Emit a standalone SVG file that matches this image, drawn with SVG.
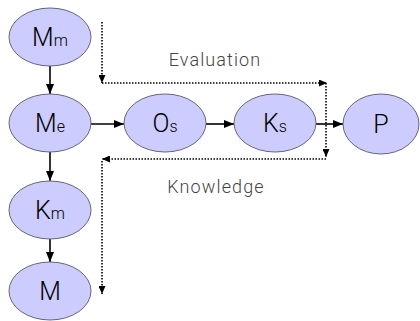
<svg xmlns="http://www.w3.org/2000/svg" width="420" height="321" viewBox="0 0 420 321">
<style>
.node ellipse{fill:#ccccff;stroke:#666677;stroke-width:1}
.node text{font-family:Roboto,"Liberation Sans",Arial,sans-serif;font-weight:300;font-size:25px;fill:#000;text-anchor:middle}
.node tspan.sub{font-size:16px}
.solid{stroke:#000;stroke-width:1.6;fill:none}
.dot{stroke:#000;stroke-width:1.6;fill:none;stroke-dasharray:1.5 1.5}
.lbl{font-family:Roboto,"Liberation Sans",Arial,sans-serif;font-weight:300;font-size:18px;fill:#444;letter-spacing:1.1px;text-anchor:middle}
</style>
<defs>
<marker id="ah" viewBox="0 0 10 8" refX="10" refY="4" markerWidth="10" markerHeight="8" markerUnits="userSpaceOnUse" orient="auto"><path d="M0,0 L10,4 L0,8 Z" fill="#000"/></marker>
<marker id="dh" viewBox="0 0 8 7" refX="8" refY="3.5" markerWidth="8" markerHeight="7" markerUnits="userSpaceOnUse" orient="auto"><path d="M0,0 L8,3.5 L0,7 Z" fill="#000"/></marker>
</defs>
<g id="connectors">
<line class="solid" x1="50" y1="66" x2="50" y2="94" marker-end="url(#ah)"/>
<line class="solid" x1="50" y1="152" x2="50" y2="181" marker-end="url(#ah)"/>
<line class="solid" x1="50" y1="239" x2="50" y2="262" marker-end="url(#ah)"/>
<line class="solid" x1="91" y1="124" x2="124" y2="124" marker-end="url(#ah)"/>
<line class="solid" x1="206" y1="124" x2="234" y2="124" marker-end="url(#ah)"/>
<line class="solid" x1="316" y1="124" x2="343" y2="124" marker-end="url(#ah)"/>
<line class="dot" x1="102" y1="22" x2="102" y2="83" marker-end="url(#dh)"/>
<line class="dot" x1="102" y1="83" x2="327" y2="83" marker-end="url(#dh)"/>
<line class="dot" x1="326" y1="83" x2="326" y2="157" marker-end="url(#dh)"/>
<line class="dot" x1="326" y1="159" x2="102" y2="159" marker-end="url(#dh)"/>
<line class="dot" x1="102" y1="161" x2="102" y2="294" marker-end="url(#dh)"/>
</g>
<text class="lbl" x="215" y="66">Evaluation</text>
<text class="lbl" x="216" y="193">Knowledge</text>
<g id="Mm" class="node"><ellipse cx="50" cy="37" rx="41" ry="29"/><text x="50" y="46">M<tspan class="sub">m</tspan></text></g>
<g id="Me" class="node"><ellipse cx="50" cy="123" rx="41" ry="29"/><text x="50" y="132">M<tspan class="sub">e</tspan></text></g>
<g id="Km" class="node"><ellipse cx="50" cy="210" rx="41" ry="29"/><text x="50" y="219">K<tspan class="sub">m</tspan></text></g>
<g id="M" class="node"><ellipse cx="50" cy="291" rx="41" ry="29"/><text x="50" y="300">M</text></g>
<g id="Os" class="node"><ellipse cx="165" cy="123" rx="41" ry="29"/><text x="165" y="132">O<tspan class="sub">s</tspan></text></g>
<g id="Ks" class="node"><ellipse cx="275" cy="123" rx="41" ry="29"/><text x="275" y="132">K<tspan class="sub">s</tspan></text></g>
<g id="P" class="node"><ellipse cx="381" cy="124" rx="38" ry="30"/><text x="381" y="133">P</text></g>
</svg>
